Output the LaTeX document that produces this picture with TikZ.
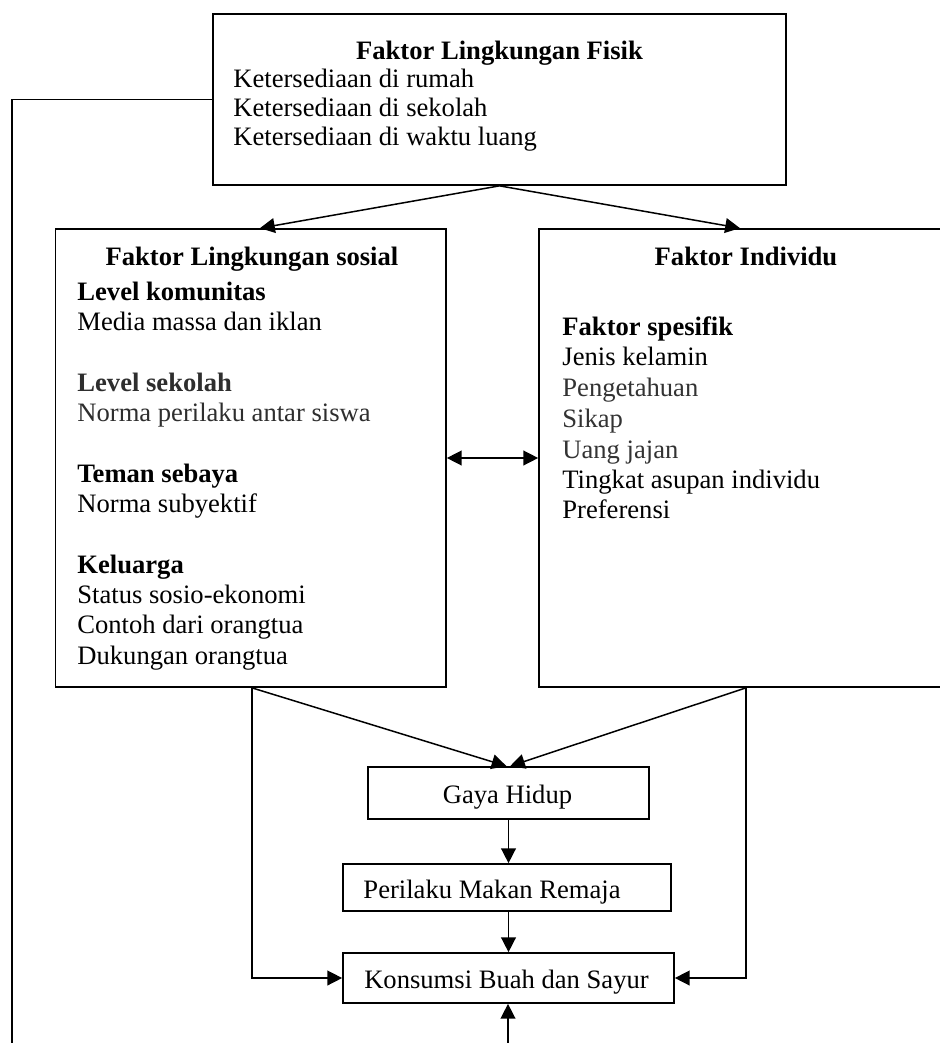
\documentclass[tikz,border=0pt]{standalone}
\usepackage{fontspec}
\setmainfont{Liberation Serif}
\usetikzlibrary{arrows.meta}
\tikzset{
  box/.style={draw, line width=0.85pt, inner sep=0pt, rectangle},
  txt/.style={anchor=base west, inner sep=0pt, font=\fontsize{13.3}{15}\selectfont},
  ctxt/.style={anchor=base, inner sep=0pt, font=\fontsize{13.3}{15}\selectfont},
  conn/.style={line width=0.75pt},
  arr/.style={conn, -{Triangle[length=7.4pt,width=7.4pt]}},
  barr/.style={conn, {Triangle[length=7.4pt,width=7.4pt]}-{Triangle[length=7.4pt,width=7.4pt]}},
}
\begin{document}
\begin{tikzpicture}[x=0.5pt,y=-0.5pt]
\useasboundingbox (0,0) rectangle (940,1043);
\clip (0,0) rectangle (940,1043);
\fill[white] (0,0) rectangle (940,1043);
% boxes
\node[box, minimum width=286.5pt, minimum height=85.5pt] (top) at (499.5,99.5) {};
\node[box, minimum width=195.25pt, minimum height=229pt] (social) at (250.75,458) {};
\node[box, minimum width=207pt, minimum height=229pt] (indiv) at (746,458) {};
\node[box, minimum width=140.5pt, minimum height=26pt] (gaya) at (508.5,793) {};
\node[box, minimum width=164pt, minimum height=23.5pt] (perilaku) at (507,887.5) {};
\node[box, minimum width=165.5pt, minimum height=25pt] (konsumsi) at (508.5,978) {};
% top box text
\node[ctxt] (t0) at (499.5,60) {\textbf{Faktor Lingkungan Fisik}};
\node[txt] (t1) at (233,88) {Ketersediaan di rumah};
\node[txt] (t2) at (233,117) {Ketersediaan di sekolah};
\node[txt] (t3) at (233,146) {Ketersediaan di waktu luang};
% social text
\node[ctxt] (s0) at (252,265) {\textbf{Faktor Lingkungan sosial}};
\node[txt] (s1) at (77,300) {\textbf{Level komunitas}};
\node[txt] (s2) at (77,330) {Media massa dan iklan};
\node[txt, text=black!82] (s3) at (77,391) {\textbf{Level sekolah}};
\node[txt, text=black!82] (s4) at (77,421) {Norma perilaku antar siswa};
\node[txt] (s5) at (77,482) {\textbf{Teman sebaya}};
\node[txt] (s6) at (77,512) {Norma subyektif};
\node[txt] (s7) at (77,573) {\textbf{Keluarga}};
\node[txt] (s8) at (77,603) {Status sosio-ekonomi};
\node[txt] (s9) at (77,633) {Contoh dari orangtua};
\node[txt] (s10) at (77,664) {Dukungan orangtua};
% individu text
\node[ctxt] (i0) at (746,265) {\textbf{Faktor Individu}};
\node[txt] (i1) at (562,335) {\textbf{Faktor spesifik}};
\node[txt] (i2) at (562,365) {Jenis kelamin};
\node[txt, text=black!80] (i3) at (562,396) {Pengetahuan};
\node[txt, text=black!80] (i4) at (562,427) {Sikap};
\node[txt, text=black!80] (i5) at (562,458) {Uang jajan};
\node[txt] (i6) at (562,488) {Tingkat asupan individu};
\node[txt] (i7) at (562,518) {Preferensi};
% small box text
\node[ctxt] (g0) at (507.5,803) {Gaya Hidup};
\node[ctxt] (p0) at (492,898) {Perilaku Makan Remaja};
\node[ctxt] (k0) at (506.5,988) {Konsumsi Buah dan Sayur};
% connectors
\coordinate (lb) at (12,1070);
\coordinate (bb) at (508,1070);
\draw[conn] (top.west) -| (lb);
\draw[arr] (top.south) -- ([xshift=4.6pt]social.north);
\draw[arr] (top.south) -- ([xshift=-3pt]indiv.north);
\draw[barr] (social.east) -- (indiv.west);
\draw[arr] ([xshift=0.6pt]social.south) -- ([xshift=-1pt]gaya.north);
\draw[arr] (indiv.south) -- ([xshift=0.8pt]gaya.north);
\draw[arr] ([xshift=0.6pt]social.south) |- (konsumsi.west);
\draw[arr] (indiv.south) |- (konsumsi.east);
\draw[arr] (gaya.south) -- (gaya.south |- perilaku.north);
\draw[arr] (konsumsi.north |- perilaku.south) -- (konsumsi.north);
\draw[arr] (bb) -- (bb |- konsumsi.south);
\end{tikzpicture}
\end{document}
